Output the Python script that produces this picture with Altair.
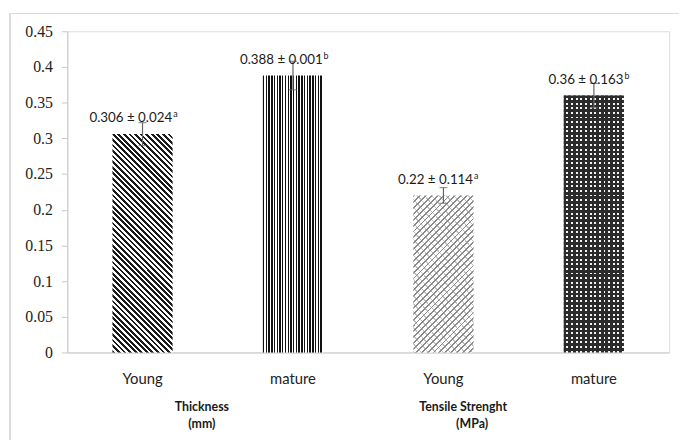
import altair as alt
import pandas as pd

# ---- data ----
keys = ["1 Young", "2 mature", "3 Young", "4 mature"]
values = [0.306, 0.388, 0.22, 0.36]
errors = [0.016, 0.020, 0.011, 0.017]
main_labels = ["0.306 ± 0.024", "0.388 ± 0.001", "0.22 ± 0.114", "0.36 ± 0.163"]
sup_labels = ["a", "b", "a", "b"]
group_names = ["Thickness", "Tensile Strenght"]
group_units = ["(mm)", "(MPa)"]
y_ticks = [0, 0.05, 0.1, 0.15, 0.2, 0.25, 0.3, 0.35, 0.4, 0.45]

df = pd.DataFrame({"key": keys, "value": values, "err": errors,
                   "label": main_labels, "sup": sup_labels})
df["lo"] = df["value"] - df["err"]
df["hi"] = df["value"] + df["err"]

W, H = 609, 325
FONT = "Lato"


def stripes(n, c1, c2, duty, x1, y1, x2, y2):
    stops = []
    for i in range(n):
        a = i / n
        b = (i + duty) / n
        e = (i + 1) / n
        stops += [
            {"offset": a, "color": c1},
            {"offset": b, "color": c1},
            {"offset": b, "color": c2},
            {"offset": e, "color": c2},
        ]
    return {"gradient": "linear", "stops": stops, "x1": x1, "y1": y1, "x2": x2, "y2": y2}


CLEAR = "rgba(255,255,255,0)"

x_enc = alt.X(
    "key:N",
    sort=keys,
    scale=alt.Scale(paddingInner=0.6, paddingOuter=0.3),
    axis=alt.Axis(
        title=None,
        labelExpr="substring(datum.value, 2)",
        labelAngle=0,
        labelFont=FONT,
        labelFontSize=15,
        labelColor="#222222",
        labelPadding=19,
        ticks=False,
        domainColor="#c8c8c8",
        domainWidth=1,
    ),
)
y_scale = alt.Scale(domain=[0, 0.45], nice=False)
y_axis = alt.Axis(
    title=None,
    values=y_ticks,
    format="~g",
    grid=False,
    labelOverlap=False,
    labelFont="Liberation Serif",
    labelFontSize=16,
    labelColor="#222222",
    labelPadding=9,
    tickSize=6,
    tickColor="#c8c8c8",
    domainColor="#c8c8c8",
)


def yq(field):
    return alt.Y(field, type="quantitative", scale=y_scale, axis=y_axis)


base = alt.Chart(df)


def bar_layer(key, fill):
    return base.transform_filter(alt.datum.key == key).mark_bar(fill=fill).encode(
        x=x_enc, y=yq("value"))


# Bar 1: diagonal "\" stripes (w=61, h=221)
g1 = stripes(50, "#1a1a1a", "#ffffff", 0.5, 0, 1, 0.327, -0.186)
# Bar 2: vertical stripes
g2 = stripes(22, "#111111", "#ffffff", 0.52, 0, 0, 1, 0)
# Bar 3: light "/" weave (w=61, h=159)
g3a = stripes(37, "#8a8a8a", "#ffffff", 0.33, 0, 0, 0.463, 1.207)
g3b = stripes(30, "rgba(140,140,140,0.55)", CLEAR, 0.18, 0, 1, 0.55, -0.3)
# Bar 4: dark with white dots
g4a = stripes(56, "#2b2b2b", "#f2f2f2", 0.58, 0, 0, 0, 1)
g4b = stripes(13, "#2b2b2b", CLEAR, 0.58, 0, 0, 1, 0)

bars = [
    bar_layer(keys[0], g1),
    bar_layer(keys[1], g2),
    bar_layer(keys[2], g3a),
    bar_layer(keys[2], g3b),
    bar_layer(keys[3], g4a),
    bar_layer(keys[3], g4b),
]

err_rule = base.mark_rule(color="#666666", strokeWidth=1.2).encode(
    x=x_enc, y=yq("lo"), y2="hi:Q"
)
cap_hi = base.mark_tick(color="#666666", size=8, thickness=1.2).encode(x=x_enc, y=yq("hi"))
cap_lo = base.mark_tick(color="#666666", size=8, thickness=1.2).encode(x=x_enc, y=yq("lo"))

value_text = base.mark_text(
    font=FONT, fontSize=13.5, color="#1a1a1a", baseline="alphabetic", align="right", dx=30, dy=-12
).encode(x=x_enc, y=yq("value"), text="label:N")
sup_text = base.mark_text(
    font=FONT, fontSize=9, color="#1a1a1a", baseline="alphabetic", align="left", dx=31, dy=-17
).encode(x=x_enc, y=yq("value"), text="sup:N")

gdf = pd.DataFrame({"key": [keys[0], keys[2]], "name": group_names, "unit": group_units})
gbase = alt.Chart(gdf)
GSTYLE = dict(font=FONT, fontSize=12.5, fontWeight="bold", color="#1a1a1a")
group_t1 = gbase.transform_filter(alt.datum.key == keys[0]).mark_text(dx=60, **GSTYLE).encode(
    x=x_enc, y=alt.value(380), text="name:N")
group_u1 = gbase.transform_filter(alt.datum.key == keys[0]).mark_text(dx=60, **GSTYLE).encode(
    x=x_enc, y=alt.value(397), text="unit:N")
group_t2 = gbase.transform_filter(alt.datum.key == keys[2]).mark_text(dx=20, **GSTYLE).encode(
    x=x_enc, y=alt.value(380), text="name:N")
group_u2 = gbase.transform_filter(alt.datum.key == keys[2]).mark_text(dx=29, **GSTYLE).encode(
    x=x_enc, y=alt.value(397), text="unit:N")

border_left = base.mark_rule(color="#d9d9d9", strokeWidth=1).encode(
    x=alt.value(-58), y=alt.value(-18), y2=alt.value(420)
)
border_top = base.mark_rule(color="#d9d9d9", strokeWidth=1).encode(
    x=alt.value(-58), x2=alt.value(625), y=alt.value(-18)
)

chart = alt.layer(
    *bars, border_left, border_top, err_rule, cap_hi, cap_lo, value_text, sup_text,
    group_t1, group_u1, group_t2, group_u2,
).properties(
    width=W, height=H,
    autosize=alt.AutoSizeParams(type="none"),
    padding={"left": 60, "top": 21, "right": 10, "bottom": 86},
).configure_view(stroke=None).configure(background="white")

chart.save("out.html", embed_options={"renderer": "svg", "actions": False})
